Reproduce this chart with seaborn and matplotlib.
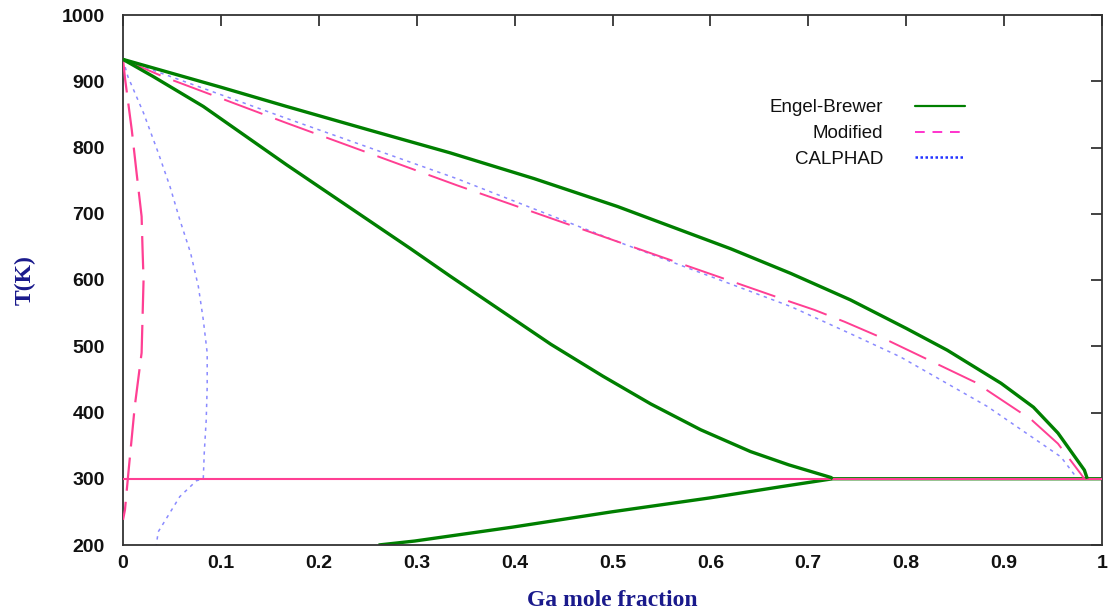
import numpy as np
import pandas as pd
import matplotlib
matplotlib.use("Agg")
import matplotlib.pyplot as plt
from matplotlib.lines import Line2D
import seaborn as sns

# ---------------- data ----------------
series_names = ["Engel-Brewer", "Modified", "CALPHAD"]

# Engel-Brewer liquidus (upper green)
eb_liq_x = [0.0, 0.1, 0.167, 0.25, 0.334, 0.42, 0.505, 0.621, 0.682, 0.743, 0.8, 0.842, 0.897, 0.93, 0.955, 0.982, 0.985]
eb_liq_T = [933, 891, 862, 827, 792, 753, 711, 647, 610, 570, 527, 494, 444, 408, 369, 313, 300]
# Engel-Brewer solidus (middle green)
eb_sol_x = [0.0, 0.031, 0.082, 0.167, 0.293, 0.334, 0.437, 0.49, 0.539, 0.59, 0.641, 0.68, 0.723, 0.725]
eb_sol_T = [933, 907, 862, 774, 648, 606, 503, 455, 413, 374, 341, 321, 302, 300]
# Engel-Brewer low-temperature boundary (lower green)
eb_low_x = [0.261, 0.298, 0.398, 0.499, 0.599, 0.672, 0.725, 1.0]
eb_low_T = [200, 206, 227, 250, 271, 288, 300, 300]

# Modified liquidus (pink, upper)
mod_liq_x = [0.0, 0.041, 0.167, 0.341, 0.505, 0.682, 0.706, 0.737, 0.781, 0.870, 0.928, 0.955, 0.978, 0.982]
mod_liq_T = [933, 907, 837, 743, 658, 567, 555, 537, 509, 446, 389, 353, 308, 300]
# Modified solidus (pink, near x = 0)
mod_sol_x = [0.0, 0.002, 0.009, 0.014, 0.019, 0.020, 0.021, 0.020, 0.019, 0.012, 0.0055, 0.002, 0.0]
mod_sol_T = [933, 905, 826, 760, 696, 645, 600, 545, 490, 409, 309, 253, 238]
# eutectic line (pink)
eut_x = [0.0, 1.0]
eut_T = [300, 300]

# CALPHAD liquidus (blue, upper)
cal_liq_x = [0.0, 0.167, 0.341, 0.505, 0.682, 0.743, 0.794, 0.883, 0.958, 0.975]
cal_liq_T = [933, 844, 753, 658, 560, 519, 484, 409, 333, 300]
# CALPHAD solidus (blue, left)
cal_sol_x = [0.0, 0.005, 0.021, 0.036, 0.048, 0.058, 0.069, 0.077, 0.082, 0.086, 0.086, 0.085, 0.083, 0.082, 0.075, 0.058, 0.036, 0.034]
cal_sol_T = [933, 907, 852, 792, 741, 691, 641, 590, 540, 490, 439, 389, 339, 300, 297, 273, 220, 200]

x_ticks = [0, 0.1, 0.2, 0.3, 0.4, 0.5, 0.6, 0.7, 0.8, 0.9, 1]
x_tick_labels = ["0", "0.1", "0.2", "0.3", "0.4", "0.5", "0.6", "0.7", "0.8", "0.9", "1"]
y_ticks = [200, 300, 400, 500, 600, 700, 800, 900, 1000]

# ---------------- style ----------------
sns.set_theme(style="white")
plt.rcParams["font.family"] = ["Liberation Sans", "DejaVu Sans"]

GREEN = "#007f00"
PINK = "#ff3f93"
BLUE = "#8a8aff"
NAVY = "#1a1a8c"

fig = plt.figure(figsize=(11.09, 6.10), dpi=100)
ax = fig.add_axes([123 / 1109, 1 - 545 / 610, (1102 - 123) / 1109, (545 - 15) / 610])

def draw(x, y, color, lw, dashes=None, z=2):
    df = pd.DataFrame({"x": x, "T": y})
    sns.lineplot(data=df, x="x", y="T", sort=False, estimator=None,
                 color=color, lw=lw, ax=ax, zorder=z)
    l = ax.lines[-1]
    if dashes is not None:
        l.set_dashes(dashes)
    l.set_solid_capstyle("butt")
    l.set_solid_joinstyle("round")

# CALPHAD (blue dotted)
draw(cal_liq_x, cal_liq_T, BLUE, 1.1, (2.2, 3.0), z=2)
draw(cal_sol_x, cal_sol_T, BLUE, 1.1, (2.2, 3.0), z=2)
# Modified (pink dashed)
draw(mod_liq_x, mod_liq_T, PINK, 1.4, (21, 7), z=3)
draw(mod_sol_x, mod_sol_T, PINK, 1.6, (15, 5), z=3)
draw(eut_x, eut_T, PINK, 1.5, None, z=3)
# Engel-Brewer (green solid)
draw(eb_liq_x, eb_liq_T, GREEN, 2.4, None, z=4)
draw(eb_sol_x, eb_sol_T, GREEN, 2.4, None, z=4)
draw(eb_low_x, eb_low_T, GREEN, 2.4, None, z=4)
ax.lines[-1].set_zorder(2.5)

ax.set_xlim(0, 1)
ax.set_ylim(200, 1000)
ax.set_xticks(x_ticks)
ax.set_xticklabels(x_tick_labels)
ax.set_yticks(y_ticks)

for sp in ax.spines.values():
    sp.set_color("#333333")
    sp.set_linewidth(1.3)

ax.tick_params(axis="both", which="both", direction="in", length=8, width=1.2,
               colors="#222222", top=True, right=True, labelsize=14)
ax.tick_params(axis="x", pad=7)
ax.tick_params(axis="y", pad=13)
for lab in ax.get_xticklabels() + ax.get_yticklabels():
    lab.set_fontweight("bold")
    lab.set_color("#111111")

ax.set_xlabel("Ga mole fraction", fontsize=17, fontweight="bold", color=NAVY,
              family=["Liberation Serif", "DejaVu Serif"], labelpad=13)
ax.set_ylabel("T(K)", fontsize=17, fontweight="bold", color=NAVY,
              family=["Liberation Serif", "DejaVu Serif"], labelpad=19)

handles = [
    Line2D([], [], color=GREEN, lw=1.6),
    Line2D([], [], color="#ff33cc", lw=1.4, dashes=(5, 4)),
    Line2D([], [], color="#2233ff", lw=1.8, dashes=(1, 1)),
]
leg = ax.legend(handles, series_names, loc="upper right", frameon=False,
                markerfirst=False, fontsize=13.5, handlelength=2.67, handletextpad=1.7,
                labelspacing=0.47, borderpad=0, borderaxespad=0,
                bbox_to_anchor=(965 / 1109, 1 - 99 / 610), bbox_transform=fig.transFigure)
for t in leg.get_texts():
    t.set_ha("right")
    t.set_color("#111111")

fig.savefig("out.png", dpi=100, facecolor="white")
